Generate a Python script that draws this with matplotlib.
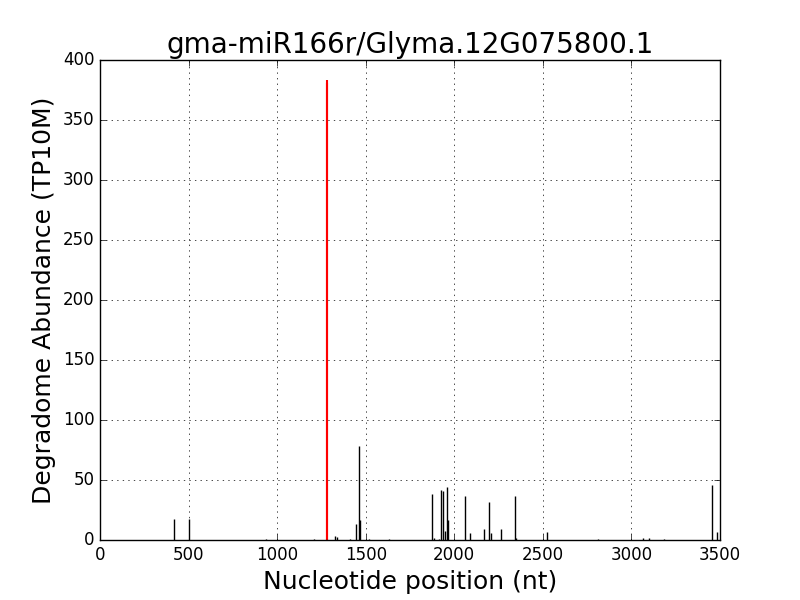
import matplotlib
matplotlib.use('Agg')
import matplotlib.pyplot as plt

plt.style.use('classic')

# --- données ---
titre = "gma-miR166r/Glyma.12G075800.1"
positions = [420, 505, 937, 1206, 1325, 1337, 1413, 1447, 1460, 1465, 1520, 1631,
             1873, 1884, 1912, 1927, 1935, 1946, 1957, 1963, 2059, 2087, 2167,
             2195, 2206, 2263, 2342, 2347, 2521, 2811, 3065, 3099, 3184, 3456, 3484]
abondances = [17.5, 17.5, 1, 1, 3, 2.5, 1, 13, 78, 17, 1, 1,
              38, 2, 1, 42, 40.5, 7.5, 44, 17, 37, 5.5, 9,
              31.5, 5.5, 9, 36.5, 2, 6.5, 1, 2, 2, 1, 45.5, 6.5]
cible_pos = [1280, 1283]
cible_val = [381, 383]

fig = plt.figure(figsize=(8, 6), dpi=100)
ax = fig.add_subplot(111)

ax.vlines(positions, 0, abondances, colors='k', linewidth=1)
ax.vlines(cible_pos, 0, cible_val, colors='r', linewidth=1.5)

ax.set_xlim(0, 3500)
ax.set_ylim(0, 400)
ax.grid(True)
ax.set_title(titre, fontsize=20)
ax.set_xlabel("Nucleotide position (nt)", fontsize=18)
ax.set_ylabel("Degradome Abundance (TP10M)", fontsize=18)

fig.savefig('out.png', dpi=100)
